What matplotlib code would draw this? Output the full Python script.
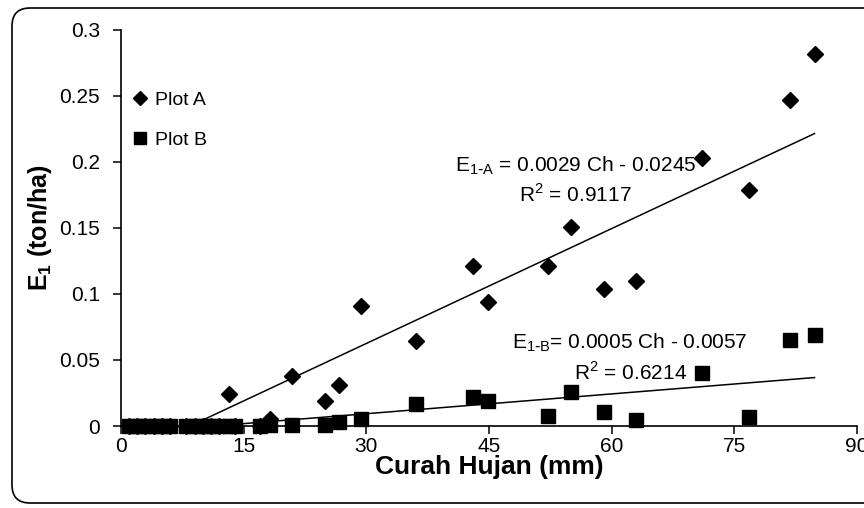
# Curah hujan vs E1 : Plot A & Plot B, dengan garis trend linear
import numpy as np
import matplotlib
matplotlib.use('Agg')
import matplotlib.pyplot as plt
from matplotlib.patches import FancyBboxPatch
from matplotlib.transforms import IdentityTransform

plt.rcParams['font.family'] = ['Liberation Sans', 'DejaVu Sans']

curah = [1, 2, 3, 4, 5, 6, 8, 9, 10, 11, 12, 13.2, 14, 17, 18.2, 20.9, 25, 26.6,
         29.3, 36.1, 43, 44.9, 52.2, 55, 59, 63, 71, 76.8, 81.8, 84.8]
plot_a = [0, 0, 0, 0, 0, 0, 0, 0, 0, 0, 0, 0.024, 0, 0, 0.005, 0.038, 0.019, 0.031,
          0.091, 0.064, 0.121, 0.094, 0.121, 0.151, 0.104, 0.110, 0.203, 0.179, 0.247, 0.282]
plot_b = [0, 0, 0, 0, 0, 0, 0, 0, 0, 0, 0, 0, 0, 0, 0.001, 0.001, 0.0005, 0.003,
          0.005, 0.017, 0.022, 0.019, 0.0076, 0.0256, 0.0104, 0.0046, 0.0405, 0.007, 0.065, 0.069]

# koefisien trend (dari persamaan di grafik)
slope_a, icpt_a = 0.0029, -0.0245
slope_b, icpt_b = 0.0005, -0.0057

x_ticks = [0, 15, 30, 45, 60, 75, 90]
y_ticks = [0, 0.05, 0.1, 0.15, 0.2, 0.25, 0.3]
y_labels = ['0', '0.05', '0.1', '0.15', '0.2', '0.25', '0.3']

fig = plt.figure(figsize=(8.64, 5.08), dpi=100)
ax = fig.add_axes([0.140, 0.1614, 0.852, 0.780])

# bingkai luar (rounded)
frame = FancyBboxPatch((12, 5), 900, 495, boxstyle='round,pad=0,rounding_size=18',
                       transform=IdentityTransform(), fill=False, ec='black', lw=1.2)
fig.patches.append(frame)

x = np.array(curah)
xl = np.array([x.min(), x.max()])
ax.plot(xl, slope_a * xl + icpt_a, color='black', lw=1.1, zorder=3)
ax.plot(xl, slope_b * xl + icpt_b, color='black', lw=1.1, zorder=3)

ax.plot(curah, plot_a, 'D', color='black', ms=7.8, ls='none', clip_on=False, zorder=5, label='Plot A')
ax.plot(curah, plot_b, 's', color='black', ms=9.5, ls='none', clip_on=False, zorder=5, label='Plot B')

ax.set_xlim(0, 90)
ax.set_ylim(0, 0.3)
ax.set_xticks(x_ticks)
ax.set_yticks(y_ticks)
ax.set_yticklabels(y_labels)
ax.tick_params(direction='out', length=6, width=1.1, labelsize=15)
ax.tick_params(axis='y', pad=9)
ax.tick_params(axis='x', pad=2)
for s in ['top', 'right']:
    ax.spines[s].set_visible(False)
for s in ['left', 'bottom']:
    ax.spines[s].set_linewidth(1.2)

ax.set_xlabel('Curah Hujan (mm)', fontsize=19, fontweight='bold', labelpad=-1)
ax.set_ylabel(r'E$_\mathregular{1}$ (ton/ha)', fontsize=18, fontweight='bold', labelpad=4)

ax.text(55.6, 0.193, r'E$_\mathregular{1\text{-}A}$ = 0.0029 Ch - 0.0245', fontsize=15,
        ha='center', va='baseline')
ax.text(55.5, 0.1695, r'R$^\mathregular{2}$ = 0.9117', fontsize=15, ha='center', va='baseline')
ax.text(62.2, 0.0585, r'E$_\mathregular{1\text{-}B}$= 0.0005 Ch - 0.0057', fontsize=15,
        ha='center', va='baseline')
ax.text(62.3, 0.035, r'R$^\mathregular{2}$ = 0.6214', fontsize=15, ha='center', va='baseline')

ax.legend(loc='upper left', bbox_to_anchor=(0.005, 0.865), frameon=False, fontsize=14,
          handlelength=0.8, handletextpad=0.35, labelspacing=1.15, borderaxespad=0,
          markerscale=0.85)

fig.savefig('out.png', dpi=100)
